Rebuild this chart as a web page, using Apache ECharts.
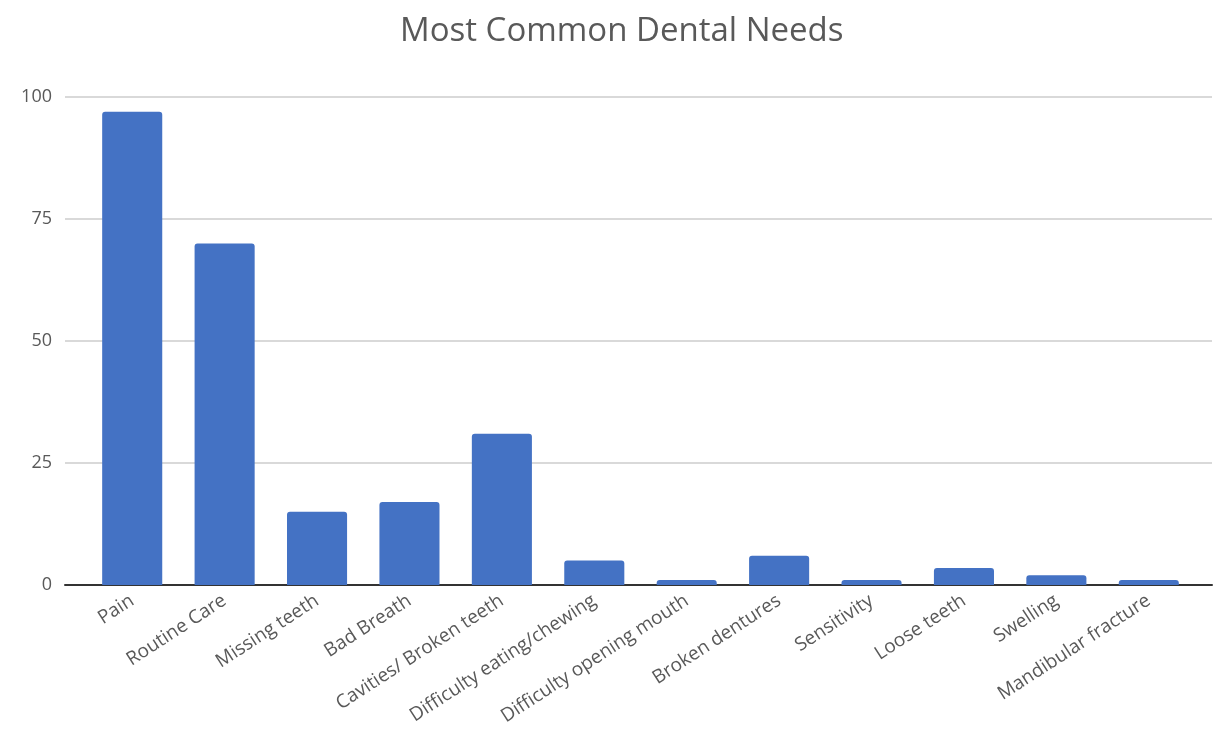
<!DOCTYPE html>
<html lang="en">

<head>
    <meta charset="UTF-8">
    <title>Most Common Dental Needs</title>
    <script src="https://cdn.jsdelivr.net/npm/echarts@6/dist/echarts.min.js"></script>
    <style>
        html, body { margin: 0; padding: 0; background: #fff; }
    </style>
</head>

<body>
    <div id="main" style="width: 1214px; height: 741px;"></div>
    <script>
        // data
        const needs = [
            'Pain', 'Routine Care', 'Missing teeth', 'Bad Breath',
            'Cavities/ Broken teeth', 'Difficulty eating/chewing',
            'Difficulty opening mouth', 'Broken dentures', 'Sensitivity',
            'Loose teeth', 'Swelling', 'Mandibular fracture'
        ]
        const counts = [97, 70, 15, 17, 31, 5, 1, 6, 1, 3.5, 2, 1]
        const yTicks = [0, 25, 50, 75, 100]

        const font = '"Open Sans", "Noto Sans", sans-serif'
        const grey = '#595959'

        var chart = echarts.init(document.querySelector('#main'))

        var option = {
            animation: false,
            title: {
                text: 'Most Common Dental Needs',
                left: 395,
                top: 10,
                textStyle: { fontFamily: font, fontSize: 33, fontWeight: 'normal', color: grey }
            },
            grid: [
                // background grid: gridlines, y labels, baseline
                { left: 65, right: 2, top: 97, bottom: 156 },
                // bars
                { left: 86, right: 19, top: 97, bottom: 156 }
            ],
            xAxis: [
                {
                    gridIndex: 0,
                    type: 'category',
                    data: [''],
                    axisLine: { show: true, lineStyle: { color: '#333', width: 2 } },
                    axisTick: { show: false },
                    axisLabel: { show: false }
                },
                {
                    gridIndex: 1,
                    type: 'category',
                    data: needs,
                    axisLine: { show: false },
                    axisTick: { show: false },
                    axisLabel: {
                        interval: 0,
                        rotate: 33,
                        margin: 14,
                        fontFamily: font,
                        fontSize: 19,
                        color: grey
                    }
                }
            ],
            yAxis: [
                {
                    gridIndex: 0,
                    type: 'value',
                    min: yTicks[0],
                    max: yTicks[yTicks.length - 1],
                    interval: 25,
                    axisLine: { show: false },
                    axisTick: { show: false },
                    axisLabel: { margin: 13, fontFamily: font, fontSize: 18, color: grey },
                    splitLine: { lineStyle: { color: '#d9d9d9', width: 2 } }
                },
                {
                    gridIndex: 1,
                    type: 'value',
                    min: yTicks[0],
                    max: yTicks[yTicks.length - 1],
                    interval: 25,
                    show: false,
                    splitLine: { show: false }
                }
            ],
            series: [
                {
                    type: 'bar',
                    xAxisIndex: 1,
                    yAxisIndex: 1,
                    data: counts,
                    barCategoryGap: '35%',
                    itemStyle: { color: '#4472c4', borderRadius: [3, 3, 0, 0] },
                    z: 1
                }
            ]
        }

        chart.setOption(option)
    </script>
</body>

</html>
